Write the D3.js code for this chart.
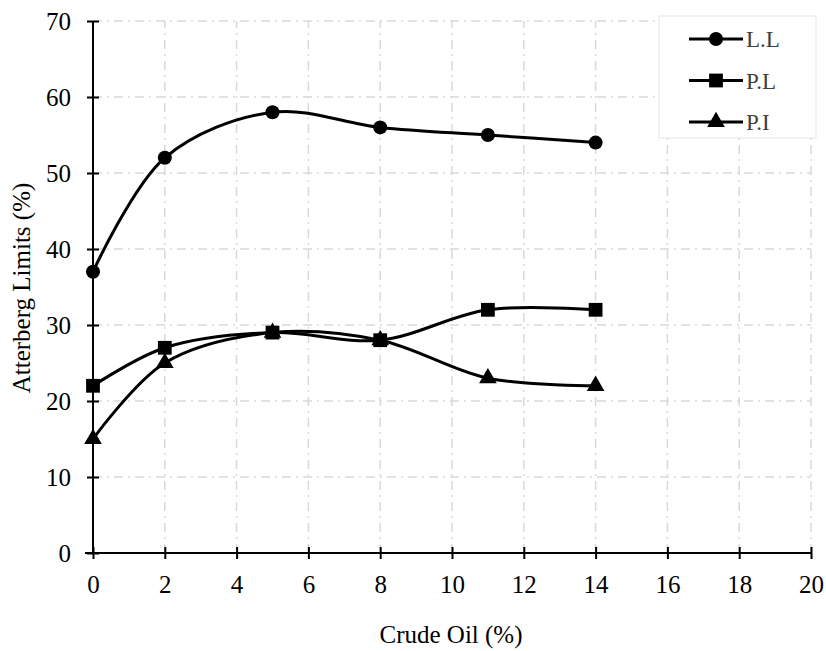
<!DOCTYPE html>
<html>
<head>
<meta charset="utf-8">
<script src="https://cdnjs.cloudflare.com/ajax/libs/d3/7.8.5/d3.min.js"></script>
<style>
  body { margin: 0; background: #fff; }
</style>
</head>
<body>
<div id="chart"></div>
<script>
var crudeOil = [0, 2, 5, 8, 11, 14];
var liquidLimit = [37, 52, 58, 56, 55, 54];
var plasticLimit = [22, 27, 29, 28, 32, 32];
var plasticityIndex = [15, 25, 29, 28, 23, 22];
var xTicks = [0, 2, 4, 6, 8, 10, 12, 14, 16, 18, 20];
var yTicks = [0, 10, 20, 30, 40, 50, 60, 70];

var FONT = "'Liberation Serif', 'Times New Roman', Times, serif";
var width = 826, height = 651;

var svg = d3.select("#chart").append("svg")
    .attr("width", width)
    .attr("height", height)
    .attr("font-family", FONT);

var x = d3.scaleLinear().domain([0, 20]).range([93, 811]);
var y = d3.scaleLinear().domain([0, 70]).range([553, 21]);

// grid
var grid = svg.append("g");
grid.selectAll(".vg")
    .data(xTicks.slice(1))
    .enter().append("line")
    .attr("x1", d => x(d)).attr("x2", d => x(d))
    .attr("y1", y(0)).attr("y2", y(70))
    .attr("stroke", "#d9d9d9").attr("stroke-width", 1.5)
    .attr("stroke-dasharray", "9,5,2,5");
grid.selectAll(".hg")
    .data(yTicks.slice(1))
    .enter().append("line")
    .attr("x1", x(0)).attr("x2", x(20))
    .attr("y1", d => y(d)).attr("y2", d => y(d))
    .attr("stroke", "#d9d9d9").attr("stroke-width", 1.5)
    .attr("stroke-dasharray", "9,5,2,5");

// axes
var xAxis = svg.append("g").attr("transform", "translate(0," + y(0) + ")");
xAxis.call(d3.axisBottom(x).tickValues(d3.range(0, 20.01, 0.4)).tickSize(-6).tickFormat(""));
xAxis.call(d3.axisBottom(x).tickValues(xTicks).tickSize(6).tickPadding(16).tickFormat(d3.format("d")));
xAxis.selectAll(".tick line").filter(function (d) { return xTicks.indexOf(d) >= 0; })
    .attr("y1", -6);
xAxis.selectAll("path").attr("stroke-width", 2).attr("d", "M" + (x(0) - 8) + ",0H" + x(20));
xAxis.selectAll("line").attr("stroke-width", 2);
xAxis.attr("font-family", FONT).attr("font-size", 25);
xAxis.selectAll("text").attr("font-family", FONT).attr("font-size", 25);

var yAxis = svg.append("g").attr("transform", "translate(" + x(0) + ",0)");
yAxis.call(d3.axisLeft(y).tickValues(d3.range(0, 70.01, 2)).tickSize(-6).tickFormat(""));
yAxis.call(d3.axisLeft(y).tickValues(yTicks).tickSize(6).tickPadding(16).tickFormat(d3.format("d")));
yAxis.selectAll(".tick line").filter(function (d) { return yTicks.indexOf(d) >= 0; })
    .attr("x1", 6);
yAxis.selectAll("path").attr("stroke-width", 2).attr("d", "M0," + y(0) + "V" + y(70));
yAxis.selectAll("line").attr("stroke-width", 2);
yAxis.attr("font-family", FONT).attr("font-size", 25);
yAxis.selectAll("text").attr("font-family", FONT).attr("font-size", 25);

// axis titles
svg.append("text")
    .attr("x", 451).attr("y", 643)
    .attr("text-anchor", "middle")
    .attr("font-size", 25)
    .text("Crude Oil (%)");
svg.append("text")
    .attr("transform", "translate(30,288) rotate(-90)")
    .attr("text-anchor", "middle")
    .attr("font-size", 25)
    .text("Atterberg Limits (%)");

var series = [
    {name: "L.L", values: liquidLimit, symbol: d3.symbolCircle, size: 155},
    {name: "P.L", values: plasticLimit, symbol: d3.symbolSquare, size: 190},
    {name: "P.I", values: plasticityIndex, symbol: d3.symbolTriangle, size: 135}
];

var line = d3.line()
    .x(d => x(d[0]))
    .y(d => y(d[1]))
    .curve(d3.curveCatmullRom.alpha(0.5));

series.forEach(function (s) {
    var pts = crudeOil.map((c, i) => [c, s.values[i]]);
    svg.append("path")
        .datum(pts)
        .attr("d", line)
        .attr("fill", "none")
        .attr("stroke", "#000")
        .attr("stroke-width", 3);
    svg.selectAll(null)
        .data(pts)
        .enter().append("path")
        .attr("d", d3.symbol().type(s.symbol).size(s.size))
        .attr("transform", d => "translate(" + x(d[0]) + "," + y(d[1]) + ")")
        .attr("fill", "#000");
});

// legend
var legend = svg.append("g");
legend.append("rect")
    .attr("x", 659).attr("y", 16)
    .attr("width", 157).attr("height", 122)
    .attr("fill", "#fff")
    .attr("stroke", "#e6e6e6");
series.forEach(function (s, i) {
    var ly = 39 + i * 41.5;
    legend.append("line")
        .attr("x1", 689).attr("x2", 743)
        .attr("y1", ly).attr("y2", ly)
        .attr("stroke", "#000").attr("stroke-width", 3);
    legend.append("path")
        .attr("d", d3.symbol().type(s.symbol).size(s.size))
        .attr("transform", "translate(716," + ly + ")");
    legend.append("text")
        .attr("x", 746).attr("y", ly + 8)
        .attr("font-size", 23)
        .attr("fill", "#404040")
        .text(s.name);
});
</script>
</body>
</html>
